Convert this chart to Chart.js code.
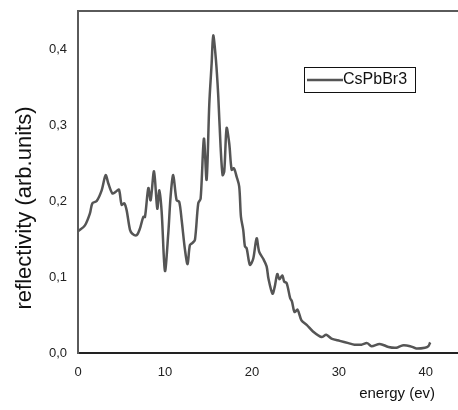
<!DOCTYPE html>
<html>
<head>
<meta charset="utf-8">
<script src="https://cdn.jsdelivr.net/npm/chart.js@4"></script>
<style>
  html, body { margin: 0; padding: 0; background: #fff; overflow: hidden; }
  #wrap { width: 458px; height: 410px; position: relative; }
</style>
</head>
<body>
<div id="wrap"><canvas id="reflChart"></canvas></div>
<script>
// energy (eV) and reflectivity
const energy = [0, 0.8, 1.38, 1.65, 2.15, 2.72, 3.18, 3.49, 3.95, 4.33, 4.71, 5.02, 5.33, 5.59, 5.98, 6.25, 6.74, 7.13, 7.51, 7.7,
    8.09, 8.35, 8.74, 9.12, 9.35, 9.62, 10.0, 10.38, 10.65, 10.95, 11.34, 11.64, 11.92, 12.3, 12.6, 12.87, 13.18, 13.45, 13.83, 14.1,
    14.48, 14.79, 15.1, 15.37, 15.55, 15.86, 16.13, 16.4, 16.63, 16.82, 17.09, 17.39, 17.67, 17.93, 18.24, 18.54, 18.74, 19.0, 19.2, 19.39,
    19.77, 20.15, 20.54, 20.84, 21.3, 21.69, 21.9, 22.37, 22.62, 22.92, 23.15, 23.5, 23.71, 24.0, 24.4, 24.6, 24.9, 25.25, 25.7, 26.3,
    27.05, 28.0, 28.55, 29.15, 30.1, 31.1, 31.8, 32.6, 33.25, 33.75, 34.7, 35.7, 36.6, 37.3, 38.2, 38.9, 39.9, 40.3, 40.5];
const reflectivity = [0.160, 0.168, 0.184, 0.197, 0.200, 0.214, 0.234, 0.223, 0.210, 0.212, 0.215, 0.195, 0.197, 0.188, 0.162, 0.157, 0.155, 0.164, 0.179, 0.179,
    0.217, 0.201, 0.239, 0.190, 0.214, 0.186, 0.108, 0.157, 0.206, 0.234, 0.201, 0.199, 0.175, 0.136, 0.117, 0.142, 0.145, 0.149, 0.197, 0.203,
    0.282, 0.228, 0.328, 0.381, 0.418, 0.386, 0.338, 0.271, 0.234, 0.239, 0.296, 0.276, 0.241, 0.243, 0.232, 0.219, 0.179, 0.162, 0.140, 0.138,
    0.116, 0.124, 0.151, 0.133, 0.124, 0.114, 0.098, 0.078, 0.087, 0.104, 0.097, 0.102, 0.094, 0.092, 0.072, 0.068, 0.054, 0.057, 0.043, 0.037,
    0.028, 0.021, 0.024, 0.019, 0.016, 0.013, 0.011, 0.011, 0.013, 0.009, 0.012, 0.008, 0.007, 0.010, 0.009, 0.006, 0.007, 0.009, 0.014];
const xTicks = [0, 10, 20, 30, 40];
const yTicks = [0, 0.1, 0.2, 0.3, 0.4];
const seriesName = 'CsPbBr3';

const FONT = '"Liberation Sans", Arial, sans-serif';

// titles, top frame line and the boxed legend
const decorations = {
    id: 'decorations',
    afterDraw(chart) {
        const ctx = chart.ctx;
        const area = chart.chartArea;
        ctx.save();
        // top frame line
        ctx.strokeStyle = '#5a5a5a';
        ctx.lineWidth = 2;
        ctx.beginPath();
        ctx.moveTo(area.left - 1, area.top);
        ctx.lineTo(area.right, area.top);
        ctx.stroke();

        // y title
        ctx.fillStyle = '#111';
        ctx.font = '22px ' + FONT;
        ctx.textAlign = 'center';
        ctx.textBaseline = 'middle';
        ctx.translate(25, 208);
        ctx.rotate(-Math.PI / 2);
        ctx.fillText('reflectivity (arb.units)', 0, 0);
        ctx.setTransform(1, 0, 0, 1, 0, 0);

        // x title
        ctx.font = '15px ' + FONT;
        ctx.textAlign = 'right';
        ctx.textBaseline = 'middle';
        ctx.fillText('energy (ev)', 435, 394);

        // legend box
        ctx.fillStyle = '#fff';
        ctx.fillRect(304, 67, 111, 25);
        ctx.strokeStyle = '#111';
        ctx.lineWidth = 1;
        ctx.strokeRect(304.5, 67.5, 111, 25);
        ctx.strokeStyle = '#555';
        ctx.lineWidth = 2.5;
        ctx.beginPath();
        ctx.moveTo(307, 80);
        ctx.lineTo(343, 80);
        ctx.stroke();
        ctx.fillStyle = '#111';
        ctx.font = '16px ' + FONT;
        ctx.textAlign = 'left';
        ctx.fillText(seriesName, 343, 80);
        ctx.restore();
    }
};

const ctx = document.getElementById('reflChart').getContext('2d');
new Chart(ctx, {
    type: 'line',
    data: {
        datasets: [{
            label: seriesName,
            data: energy.map((e, i) => ({ x: e, y: reflectivity[i] })),
            borderColor: '#555',
            borderWidth: 2.5,
            pointRadius: 0,
            tension: 0.3,
            fill: false
        }]
    },
    options: {
        responsive: true,
        maintainAspectRatio: false,
        animation: false,
        layout: { padding: { top: 11, right: 0, left: 0, bottom: 0 } },
        plugins: {
            legend: { display: false },
            tooltip: { enabled: false }
        },
        scales: {
            x: {
                type: 'linear',
                min: 0,
                max: 43.7,
                afterBuildTicks: axis => { axis.ticks = xTicks.map(v => ({ value: v })); },
                afterFit: axis => { axis.height = 57; axis.paddingLeft = 0; axis.paddingRight = 0; },
                grid: { display: false, drawTicks: false },
                border: { display: true, color: '#222', width: 2 },
                ticks: {
                    color: '#222',
                    padding: 12,
                    maxRotation: 0,
                    font: { family: FONT, size: 13 },
                    callback: v => String(v)
                }
            },
            y: {
                min: 0,
                max: 0.45,
                afterBuildTicks: axis => { axis.ticks = yTicks.map(v => ({ value: v })); },
                afterFit: axis => { axis.width = 78; axis.paddingTop = 0; axis.paddingBottom = 0; },
                grid: { display: false, drawTicks: false },
                border: { display: true, color: '#5a5a5a', width: 2 },
                ticks: {
                    color: '#222',
                    padding: 11,
                    font: { family: FONT, size: 13 },
                    callback: v => v.toFixed(1).replace('.', ',')
                }
            }
        }
    },
    plugins: [decorations]
});
</script>
</body>
</html>
